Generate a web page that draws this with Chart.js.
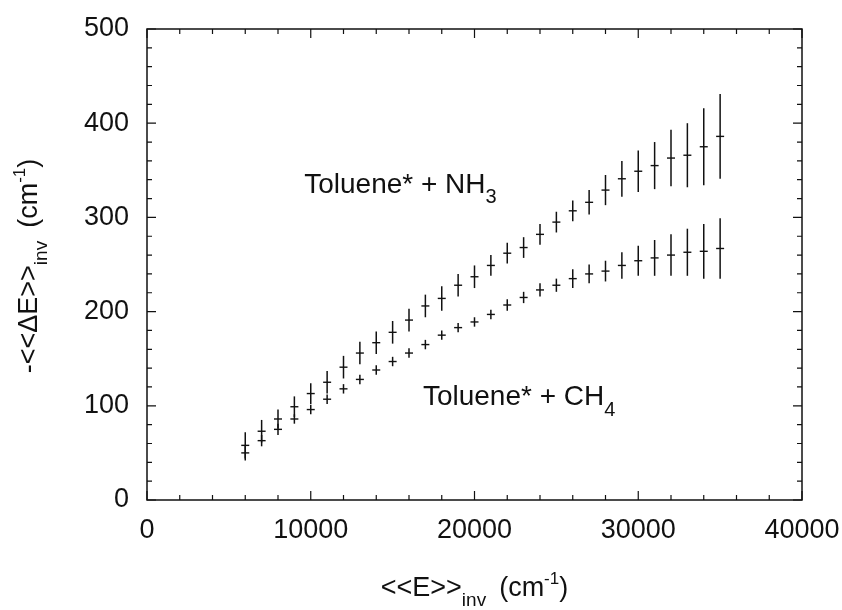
<!DOCTYPE html>
<html>
<head>
<meta charset="utf-8">
<script src="https://cdn.jsdelivr.net/npm/chart.js@4.4.1/dist/chart.umd.min.js"></script>
<style>
	html, body { margin: 0; padding: 0; background: #fff; }
	#wrap { width: 842px; height: 610px; position: relative; }
</style>
</head>
<body>
<div id="wrap"><canvas id="myChart" width="842" height="610"></canvas></div>
<script>
// <<E>>inv, cm-1
const energy = [
	6000, 7000, 8000, 9000, 10000, 11000, 12000, 13000, 14000, 15000,
	16000, 17000, 18000, 19000, 20000, 21000, 22000, 23000, 24000, 25000,
	26000, 27000, 28000, 29000, 30000, 31000, 32000, 33000, 34000, 35000,
];
// Toluene* + NH3
const nh3Mean = [
	58, 73, 86, 99, 113, 125, 141, 156, 167, 178,
	191, 206, 214, 228, 237, 249, 262, 268, 282, 295,
	307, 316, 329, 341, 349, 355, 363, 366, 375, 386,
];
const nh3Err = [
	14, 12, 10, 11, 11, 12, 12, 12, 12, 12,
	12, 12, 13, 12, 12, 11, 11, 11, 11, 11,
	11, 13, 16, 19, 22, 25, 30, 34, 41, 45,
];
// Toluene* + CH4
const ch4Mean = [
	50, 63, 75, 86, 96, 107, 118, 128, 138, 147,
	156, 165, 175, 183, 189, 197, 207, 215, 223, 228,
	235, 240, 243, 249, 254, 257, 260, 263, 264, 267,
];
const ch4Err = [
	8, 6, 6, 5, 5, 5, 5, 5, 5, 5,
	5, 5, 5, 5, 5, 5, 6, 6, 7, 7,
	10, 10, 11, 14, 16, 19, 22, 25, 29, 32,
];

const fontFamily = "'Liberation Sans', Arial, Helvetica, sans-serif";
const ink = "#111";

const toPoints = (xs, ys) => xs.map((x, i) => ({ x: x, y: ys[i] }));

// vertical error bars, drawn through the chart scales
const errorBars = {
	id: "errorBars",
	afterDatasetsDraw(chart) {
		const { ctx } = chart;
		const xs = chart.scales.x;
		const ys = chart.scales.y;
		ctx.save();
		ctx.strokeStyle = ink;
		ctx.lineWidth = 1.5;
		chart.data.datasets.forEach((ds) => {
			ds.data.forEach((p, i) => {
				const e = ds.errors[i];
				const px = xs.getPixelForValue(p.x);
				ctx.beginPath();
				ctx.moveTo(px, ys.getPixelForValue(p.y - e));
				ctx.lineTo(px, ys.getPixelForValue(p.y + e));
				ctx.stroke();
			});
		});
		ctx.restore();
	},
};

// frame with inward ticks on all four sides
const frameTicks = {
	id: "frameTicks",
	afterDraw(chart) {
		const { ctx, chartArea: a } = chart;
		const xs = chart.scales.x;
		const ys = chart.scales.y;
		ctx.save();
		ctx.strokeStyle = ink;
		ctx.lineWidth = 1.5;
		ctx.strokeRect(a.left, a.top, a.right - a.left, a.bottom - a.top);
		ctx.lineWidth = 1.2;
		ctx.beginPath();
		for (let v = 0; v <= 40000; v += 2000) {
			const len = v % 10000 == 0 ? 9 : 5;
			const px = xs.getPixelForValue(v);
			ctx.moveTo(px, a.bottom);
			ctx.lineTo(px, a.bottom - len);
			ctx.moveTo(px, a.top);
			ctx.lineTo(px, a.top + len);
		}
		for (let v = 0; v <= 500; v += 20) {
			const len = v % 100 == 0 ? 9 : 5;
			const py = ys.getPixelForValue(v);
			ctx.moveTo(a.left, py);
			ctx.lineTo(a.left + len, py);
			ctx.moveTo(a.right, py);
			ctx.lineTo(a.right - len, py);
		}
		ctx.stroke();
		ctx.restore();
	},
};

// draws text pieces one after another (sub / superscripts via dy)
function drawRich(ctx, x, y, parts) {
	let cx = x;
	parts.forEach((p) => {
		ctx.font = `${p.size}px ${fontFamily}`;
		ctx.fillText(p.text, cx, y + (p.dy || 0));
		cx += ctx.measureText(p.text).width + (p.gap || 0);
	});
	return cx - x;
}

function richWidth(ctx, parts) {
	let w = 0;
	parts.forEach((p) => {
		ctx.font = `${p.size}px ${fontFamily}`;
		w += ctx.measureText(p.text).width + (p.gap || 0);
	});
	return w;
}

const labels = {
	id: "labels",
	afterDraw(chart) {
		const { ctx, chartArea: a } = chart;
		const xs = chart.scales.x;
		const ys = chart.scales.y;
		ctx.save();
		ctx.fillStyle = ink;
		ctx.textBaseline = "alphabetic";
		ctx.textAlign = "left";

		// series annotations
		drawRich(ctx, xs.getPixelForValue(9600), ys.getPixelForValue(326), [
			{ text: "Toluene* + NH", size: 28 },
			{ text: "3", size: 20, dy: 10 },
		]);
		drawRich(ctx, xs.getPixelForValue(16850), ys.getPixelForValue(101), [
			{ text: "Toluene* + CH", size: 28 },
			{ text: "4", size: 20, dy: 11 },
		]);

		// x axis title
		const xt = [
			{ text: "<<E>>", size: 27 },
			{ text: "inv", size: 19, dy: 10, gap: 13 },
			{ text: "(cm", size: 27 },
			{ text: "-1", size: 17, dy: -12 },
			{ text: ")", size: 27 },
		];
		const cxm = (a.left + a.right) / 2;
		drawRich(ctx, cxm - richWidth(ctx, xt) / 2, 596, xt);

		// y axis title, rotated
		const yt = [
			{ text: "-<<\u0394E>>", size: 27 },
			{ text: "inv", size: 19, dy: 10, gap: 13 },
			{ text: "(cm", size: 27 },
			{ text: "-1", size: 17, dy: -12 },
			{ text: ")", size: 27 },
		];
		ctx.translate(37, 266);
		ctx.rotate(-Math.PI / 2);
		drawRich(ctx, -richWidth(ctx, yt) / 2, 0, yt);
		ctx.restore();
	},
};

new Chart(document.getElementById("myChart"), {
	type: "scatter",
	data: {
		datasets: [
			{
				label: "Toluene* + NH3",
				data: toPoints(energy, nh3Mean),
				errors: nh3Err,
				pointStyle: "line",
				pointRadius: 4,
				borderColor: ink,
				borderWidth: 1.4,
				backgroundColor: ink,
			},
			{
				label: "Toluene* + CH4",
				data: toPoints(energy, ch4Mean),
				errors: ch4Err,
				pointStyle: "line",
				pointRadius: 4,
				borderColor: ink,
				borderWidth: 1.4,
				backgroundColor: ink,
			},
		],
	},
	options: {
		responsive: false,
		animation: false,
		events: [],
		layout: { padding: { top: 29, right: 0, left: 0, bottom: 0 } },
		plugins: {
			legend: { display: false },
			tooltip: { enabled: false },
		},
		scales: {
			x: {
				type: "linear",
				min: 0,
				max: 40000,
				grid: { display: false, drawTicks: false },
				border: { display: false },
				ticks: {
					stepSize: 10000,
					padding: 14,
					color: ink,
					maxRotation: 0,
					font: { family: fontFamily, size: 27 },
					callback: (v) => String(v),
				},
				afterFit: (s) => {
					s.height = 110;
					s.paddingLeft = 0;
					s.paddingRight = 40;
				},
			},
			y: {
				min: 0,
				max: 500,
				grid: { display: false, drawTicks: false },
				border: { display: false },
				ticks: {
					stepSize: 100,
					padding: 18,
					color: ink,
					font: { family: fontFamily, size: 27 },
					callback: (v) => String(v),
				},
				afterFit: (s) => {
					s.width = 147;
					s.paddingTop = 0;
					s.paddingBottom = 0;
				},
			},
		},
	},
	plugins: [errorBars, frameTicks, labels],
});
</script>
</body>
</html>
